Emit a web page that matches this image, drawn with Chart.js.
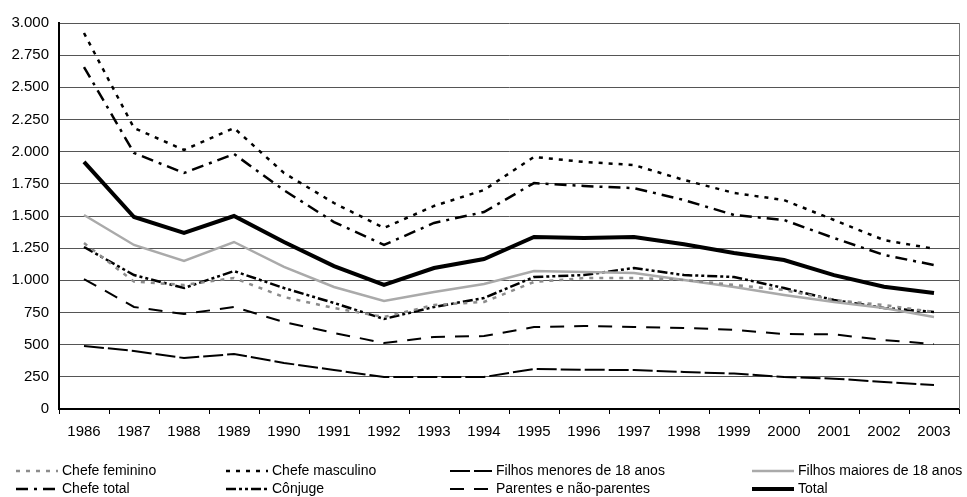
<!DOCTYPE html>
<html>
<head>
<meta charset="utf-8">
<script src="https://cdn.jsdelivr.net/npm/chart.js@4.4.1/dist/chart.umd.min.js"></script>
<style>
  html, body { margin: 0; padding: 0; background: #fff; }
  #wrap { width: 967px; height: 497px; position: relative; }
</style>
</head>
<body>
<div id="wrap"><canvas id="chart"></canvas></div>
<script>
// anos
const years = ["1986","1987","1988","1989","1990","1991","1992","1993","1994",
  "1995","1996","1997","1998","1999","2000","2001","2002","2003"];

// series
const chefeFeminino  = [1290, 990, 964, 1018, 870, 785, 715, 808, 832, 987, 1018, 1018, 1003, 964, 925, 847, 808, 754];
const chefeMasculino = [2922, 2184, 2013, 2184, 1834, 1601, 1407, 1578, 1702, 1959, 1920, 1896, 1780, 1679, 1624, 1469, 1313, 1245];
const filhosMenores  = [490, 451, 396, 427, 358, 303, 249, 249, 249, 311, 305, 303, 288, 275, 249, 236, 210, 187];
const filhosMaiores  = [1508, 1275, 1150, 1298, 1104, 948, 839, 909, 971, 1072, 1065, 1057, 1003, 948, 886, 832, 785, 715];
const chefeTotal     = [2658, 1990, 1834, 1982, 1700, 1453, 1275, 1446, 1531, 1756, 1733, 1717, 1624, 1508, 1469, 1329, 1197, 1119];
const conjuge        = [1259, 1041, 940, 1072, 940, 824, 700, 793, 863, 1026, 1041, 1096, 1041, 1026, 940, 847, 785, 754];
const parentes       = [1010, 793, 738, 793, 676, 591, 513, 560, 567, 637, 645, 637, 630, 615, 583, 580, 536, 505];
const total          = [1920, 1492, 1368, 1500, 1298, 1111, 964, 1096, 1166, 1337, 1329, 1337, 1280, 1212, 1158, 1040, 950, 901];

const fontFam = "'Liberation Sans', Arial, sans-serif";

function ds(label, data, color, width, dash) {
  return {
    label: label, data: data, borderColor: color, backgroundColor: color,
    borderWidth: width, borderDash: dash, pointRadius: 0, tension: 0, fill: false
  };
}

// legend slots (column x of the sample line, row y)
const legendCols = [16, 226, 450, 752];
const legendRows = [471, 489];

const legendPlugin = {
  id: "bottomLegend",
  afterDraw(chart) {
    const ctx = chart.ctx;
    ctx.save();
    ctx.font = "14px " + fontFam;
    ctx.textBaseline = "middle";
    ctx.fillStyle = "#000";
    chart.data.datasets.forEach((d, i) => {
      const x = legendCols[i % 4];
      const y = legendRows[Math.floor(i / 4)];
      ctx.strokeStyle = d.borderColor;
      ctx.lineWidth = d.borderWidth;
      ctx.setLineDash(d.borderDash || []);
      ctx.beginPath();
      ctx.moveTo(x, y);
      ctx.lineTo(x + 42, y);
      ctx.stroke();
      ctx.setLineDash([]);
      ctx.fillText(d.label, x + 46, y);
    });
    // right border of the plot
    const a = chart.chartArea;
    ctx.strokeStyle = "#777";
    ctx.lineWidth = 1;
    ctx.beginPath();
    ctx.moveTo(a.right + 0.5, a.top);
    ctx.lineTo(a.right + 0.5, a.bottom);
    ctx.stroke();
    ctx.restore();
  }
};

new Chart(document.getElementById("chart"), {
  type: "line",
  plugins: [legendPlugin],
  data: {
    labels: years,
    datasets: [
      ds("Chefe feminino", chefeFeminino, "#8c8c8c", 2.5, [4, 6]),
      ds("Chefe masculino", chefeMasculino, "#000", 2.5, [4, 6]),
      ds("Filhos menores de 18 anos", filhosMenores, "#000", 2, [20, 4]),
      ds("Filhos maiores de 18 anos", filhosMaiores, "#aaaaaa", 2.5, []),
      ds("Chefe total", chefeTotal, "#000", 2.5, [12, 6, 3, 6]),
      ds("Cônjuge", conjuge, "#000", 2.5, [10, 3, 3, 3, 3, 3]),
      ds("Parentes e não-parentes", parentes, "#000", 2, [14, 10]),
      ds("Total", total, "#000", 4, [])
    ]
  },
  options: {
    responsive: true,
    maintainAspectRatio: false,
    animation: false,
    layout: { padding: { left: 0, top: 23, right: 8, bottom: 48 } },
    plugins: { legend: { display: false }, tooltip: { enabled: false } },
    scales: {
      x: {
        offset: true,
        grid: { offset: true, drawOnChartArea: false, drawTicks: true, tickLength: 5, color: "#000" },
        border: { color: "#000", width: 2 },
        ticks: { color: "#000", font: { size: 15, family: fontFam }, maxRotation: 0, padding: 9 },
        afterFit(s) { s.height = 40; }
      },
      y: {
        min: 0, max: 3000,
        grid: { color: "#555", lineWidth: 1, drawTicks: false },
        border: { color: "#000", width: 2 },
        ticks: {
          stepSize: 250, color: "#000", padding: 10,
          font: { size: 15, family: fontFam },
          callback: v => v.toLocaleString("de-DE")
        },
        afterFit(s) { s.width = 59; }
      }
    }
  }
});
</script>
</body>
</html>
